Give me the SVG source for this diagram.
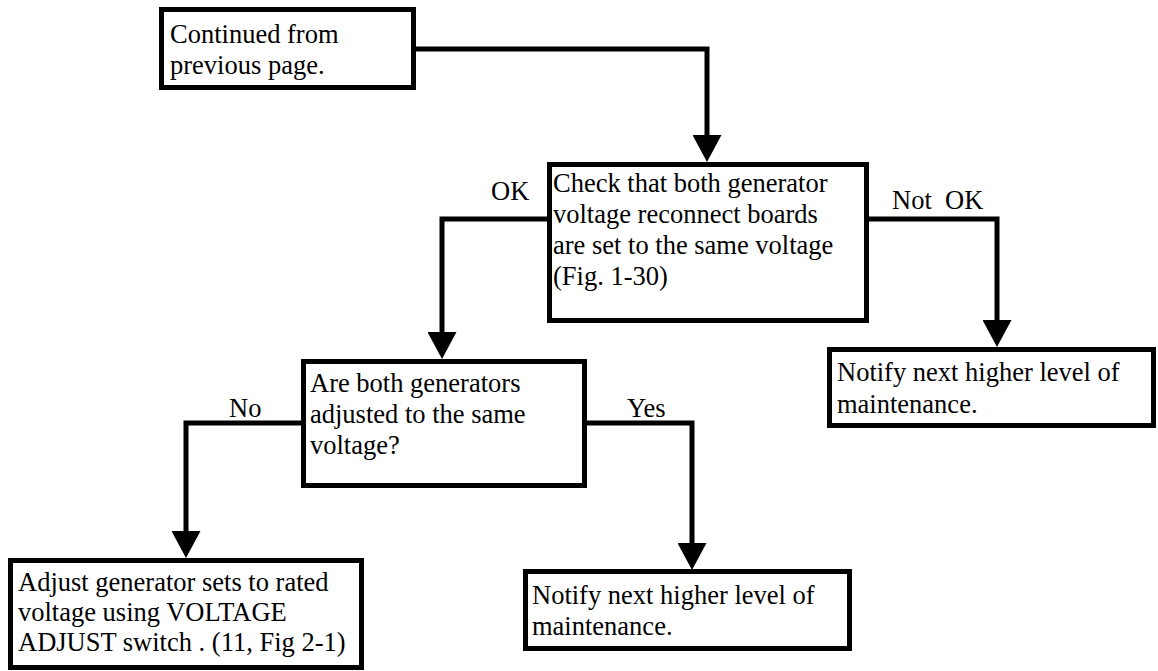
<svg xmlns="http://www.w3.org/2000/svg" width="1158" height="671" viewBox="0 0 1158 671">
<style>
.box{fill:#fff;stroke:#000;stroke-width:5}
.conn{fill:none;stroke:#000;stroke-width:5}
text{font-family:"Liberation Serif","Times New Roman",serif;font-size:26.5px;fill:#000;white-space:pre}
</style>
<defs>
<marker id="arr" markerUnits="userSpaceOnUse" viewBox="0 0 27 29" refX="0" refY="14.5" markerWidth="27" markerHeight="29" orient="auto">
<path d="M0,0 L27,14.5 L0,29 z" fill="#000"/>
</marker>
</defs>
<rect width="1158" height="671" fill="#fff"/>
<g id="connectors">
<path class="conn" d="M416,49 H707 V135" marker-end="url(#arr)"/>
<path class="conn" d="M547,219 H442 V332" marker-end="url(#arr)"/>
<path class="conn" d="M869,219 H997 V320" marker-end="url(#arr)"/>
<path class="conn" d="M301,423 H186 V531" marker-end="url(#arr)"/>
<path class="conn" d="M587,423 H692 V543" marker-end="url(#arr)"/>
<text x="491" y="200">OK</text>
<text x="892" y="209" xml:space="preserve">Not  OK</text>
<text x="229" y="417">No</text>
<text x="627" y="417">Yes</text>
</g>
<g id="start">
<rect class="box" x="161.5" y="9.5" width="252" height="78"/>
<text x="170" y="42.5">Continued from</text>
<text x="170" y="74">previous page.</text>
</g>
<g id="check">
<rect class="box" x="549.5" y="164.5" width="317" height="156"/>
<text x="553" y="191.5">Check that both generator</text>
<text x="553" y="222.8">voltage reconnect boards</text>
<text x="553" y="254.1">are set to the same voltage</text>
<text x="553" y="285.4">(Fig. 1-30)</text>
</g>
<g id="adjusted">
<rect class="box" x="303.5" y="361.5" width="281" height="124"/>
<text x="310" y="392">Are both generators</text>
<text x="310" y="423">adjusted to the same</text>
<text x="310" y="454">voltage?</text>
</g>
<g id="notify-upper">
<rect class="box" x="829.5" y="349.5" width="324" height="76"/>
<text x="837" y="381">Notify next higher level of</text>
<text x="837" y="413">maintenance.</text>
</g>
<g id="adjust">
<rect class="box" x="10.5" y="560.5" width="351" height="107"/>
<text x="18" y="591">Adjust generator sets to rated</text>
<text x="18" y="621">voltage using VOLTAGE</text>
<text x="18" y="651">ADJUST switch . (11, Fig 2-1)</text>
</g>
<g id="notify-lower">
<rect class="box" x="525.5" y="571.5" width="324" height="77"/>
<text x="532" y="604">Notify next higher level of</text>
<text x="532" y="635">maintenance.</text>
</g>
</svg>
